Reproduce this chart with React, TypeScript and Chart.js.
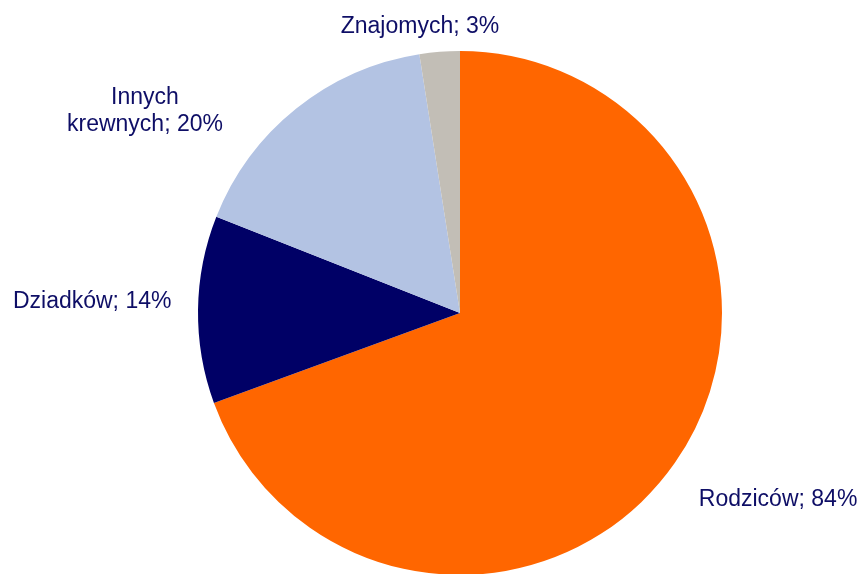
import React, { useEffect, useRef } from "react";
import { Chart, registerables } from "chart.js";

Chart.register(...registerables);

const categories = ["Rodziców", "Dziadków", "Innych krewnych", "Znajomych"];
const values = [84, 14, 20, 3];
const labelLines = [["Rodziców; 84%"], ["Dziadków; 14%"], ["Innych", "krewnych; 20%"], ["Znajomych; 3%"]];
const colors = ["#FF6600", "#000066", "#B3C3E3", "#C2BEB6"];

// layout tweaks for label placement (degrees nudge from slice mid-angle, gap in px)
const labelNudgeDeg = [-4.5, 1, -18.7, -3.5];
const labelGap = [34, 26, 33, 12];

const labelPlugin = {
  id: "pieLabels",
  afterDraw(chart: any) {
    const ctx = chart.ctx;
    const meta = chart.getDatasetMeta(0);
    ctx.save();
    ctx.font = "23px 'Liberation Sans', Arial, sans-serif";
    ctx.fillStyle = "#0E0E66";
    ctx.textAlign = "center";
    ctx.textBaseline = "middle";
    const lineH = 27;
    meta.data.forEach((arc: any, i: number) => {
      const { x, y, startAngle, endAngle, outerRadius } = arc.getProps(
        ["x", "y", "startAngle", "endAngle", "outerRadius"],
        true
      );
      const mid = (startAngle + endAngle) / 2 + (labelNudgeDeg[i] * Math.PI) / 180;
      const dx = Math.cos(mid);
      const dy = Math.sin(mid);
      const lines = labelLines[i];
      const w = Math.max(...lines.map((l) => ctx.measureText(l).width));
      const h = lines.length * lineH - 4;
      const hw = w / 2;
      const hh = h / 2;
      const target = outerRadius + labelGap[i];
      let t = target;
      for (let k = 0; k < 200; k++) {
        const cx = t * dx;
        const cy = t * dy;
        const nx = Math.max(Math.abs(cx) - hw, 0);
        const ny = Math.max(Math.abs(cy) - hh, 0);
        const d = Math.sqrt(nx * nx + ny * ny);
        if (d >= target) break;
        t += 1;
      }
      const cx = x + t * dx;
      const cy = y + t * dy;
      lines.forEach((l, j) => {
        ctx.fillText(l, cx, cy - ((lines.length - 1) * lineH) / 2 + j * lineH);
      });
    });
    ctx.restore();
  },
};

export default function App() {
  const ref = useRef<HTMLCanvasElement | null>(null);
  useEffect(() => {
    if (!ref.current) return;
    const chart = new Chart(ref.current, {
      type: "pie",
      data: {
        labels: categories,
        datasets: [
          {
            data: values,
            backgroundColor: colors,
            borderWidth: 0,
          },
        ],
      },
      options: {
        responsive: false,
        animation: false,
        layout: { padding: { top: 51, bottom: 45, left: 198, right: 141 } },
        plugins: { legend: { display: false }, tooltip: { enabled: false } },
      },
      plugins: [labelPlugin],
    });
    return () => chart.destroy();
  }, []);
  return (
    <div
      style={{
        position: "fixed",
        top: 0,
        left: 0,
        width: 863,
        height: 574,
        overflow: "hidden",
        background: "#fff",
      }}
    >
      <canvas ref={ref} width={863} height={620} style={{ width: 863, height: 620, display: "block" }} />
    </div>
  );
}
